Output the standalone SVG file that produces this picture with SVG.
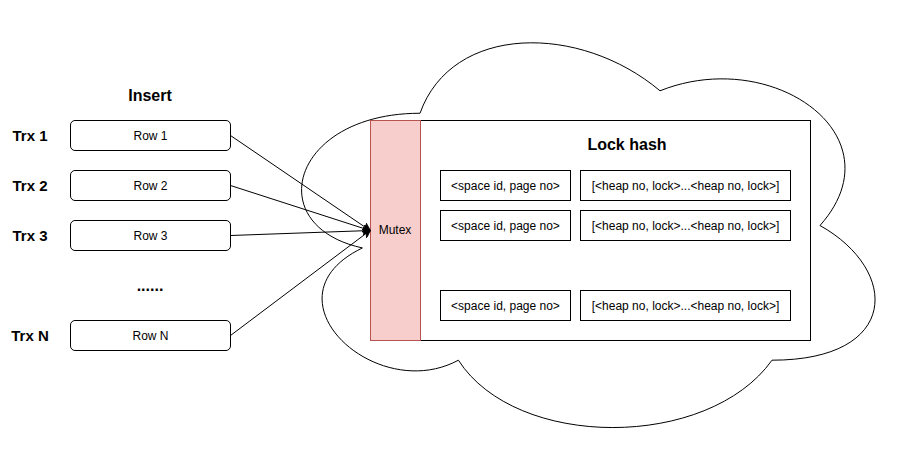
<svg xmlns="http://www.w3.org/2000/svg" width="901" height="451" viewBox="0 0 901 451">
<defs>
<style>
text{font-family:"Liberation Sans",Arial,sans-serif;fill:#000}
.b{font-weight:bold;font-size:16px}
.t{font-weight:bold;font-size:15px}
.s{font-size:12px}
.row{fill:#fff;stroke:#000;stroke-width:1}
.box{fill:#fff;stroke:#000;stroke-width:1}
.conn{fill:none;stroke:#000;stroke-width:1}
</style>
<marker id="arr" viewBox="0 0 10 10" refX="9" refY="5" markerWidth="8" markerHeight="8" markerUnits="userSpaceOnUse" orient="auto">
<path d="M0,0 L10,5 L0,10 L3,5 Z" fill="#000" stroke="#000" stroke-width="1"/>
</marker>
</defs>
<rect width="901" height="451" fill="#fff"/>
<g id="cloud">
<path d="M420,113.25 C292,113.25 260,225.5 362.4,247.95 C260,297.34 375.2,405.1 458.4,360.2 C516,450 708,450 772,360.2 C900,360.2 900,270.4 820,225.5 C900,135.7 772,45.9 660,90.8 C580,23.45 452,23.45 420,113.25 Z" fill="#fff" stroke="#000" stroke-width="1"/>
</g>
<g id="lockhash">
<rect x="420.5" y="120.5" width="390" height="220" class="box"/>
<text x="627" y="150" class="b" text-anchor="middle">Lock hash</text>
</g>
<g id="mutex">
<rect x="370.5" y="120.5" width="50" height="220" fill="#f8cecc" stroke="#b85450" stroke-width="1"/>
<text x="395" y="234" class="s" text-anchor="middle">Mutex</text>
</g>
<g id="key1"><rect x="440.5" y="170.5" width="130" height="30" class="box"/><text x="505.5" y="190" class="s" text-anchor="middle">&lt;space id, page no&gt;</text></g>
<g id="val1"><rect x="580.5" y="170.5" width="210" height="30" class="box"/><text x="685.5" y="190" class="s" text-anchor="middle">[&lt;heap no, lock&gt;...&lt;heap no, lock&gt;]</text></g>
<g id="key2"><rect x="440.5" y="210.5" width="130" height="30" class="box"/><text x="505.5" y="230" class="s" text-anchor="middle">&lt;space id, page no&gt;</text></g>
<g id="val2"><rect x="580.5" y="210.5" width="210" height="30" class="box"/><text x="685.5" y="230" class="s" text-anchor="middle">[&lt;heap no, lock&gt;...&lt;heap no, lock&gt;]</text></g>
<g id="key3"><rect x="440.5" y="290.5" width="130" height="30" class="box"/><text x="505.5" y="310" class="s" text-anchor="middle">&lt;space id, page no&gt;</text></g>
<g id="val3"><rect x="580.5" y="290.5" width="210" height="30" class="box"/><text x="685.5" y="310" class="s" text-anchor="middle">[&lt;heap no, lock&gt;...&lt;heap no, lock&gt;]</text></g>
<g id="insert"><text x="150" y="101" class="b" text-anchor="middle">Insert</text></g>
<g id="trx1"><text x="30" y="141" class="t" text-anchor="middle">Trx 1</text></g>
<g id="trx2"><text x="30" y="191" class="t" text-anchor="middle">Trx 2</text></g>
<g id="trx3"><text x="30" y="241" class="t" text-anchor="middle">Trx 3</text></g>
<g id="trxN"><text x="30" y="341" class="t" text-anchor="middle">Trx N</text></g>
<g id="row1"><rect x="70.5" y="120.5" width="160" height="30" rx="4.5" class="row"/><text x="150.5" y="140" class="s" text-anchor="middle">Row 1</text></g>
<g id="row2"><rect x="70.5" y="170.5" width="160" height="30" rx="4.5" class="row"/><text x="150.5" y="190" class="s" text-anchor="middle">Row 2</text></g>
<g id="row3"><rect x="70.5" y="220.5" width="160" height="30" rx="4.5" class="row"/><text x="150.5" y="240" class="s" text-anchor="middle">Row 3</text></g>
<g id="rowN"><rect x="70.5" y="320.5" width="160" height="30" rx="4.5" class="row"/><text x="150.5" y="340" class="s" text-anchor="middle">Row N</text></g>
<g id="dots"><text x="150" y="291" class="b" text-anchor="middle">......</text></g>
<g id="connectors">
<line x1="230.5" y1="135.5" x2="370" y2="230.5" class="conn" marker-end="url(#arr)"/>
<line x1="230.5" y1="185.5" x2="370" y2="230.5" class="conn" marker-end="url(#arr)"/>
<line x1="230.5" y1="235.5" x2="370" y2="230.5" class="conn" marker-end="url(#arr)"/>
<line x1="230.5" y1="335.5" x2="370" y2="230.5" class="conn" marker-end="url(#arr)"/>
</g>
</svg>
